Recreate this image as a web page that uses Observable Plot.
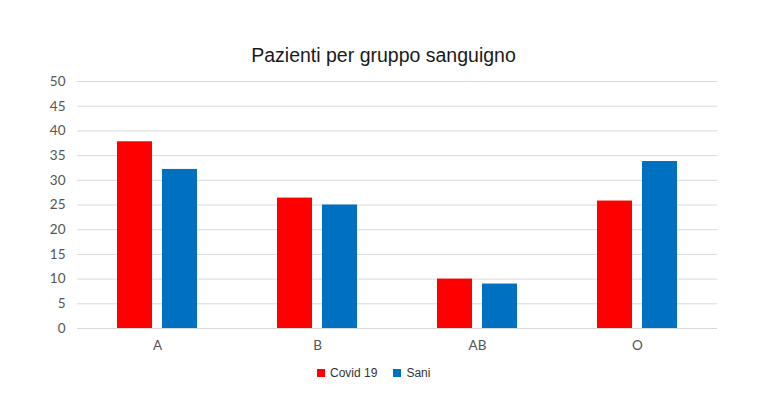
<!DOCTYPE html>
<html>
<head>
<meta charset="utf-8">
<script src="https://cdn.jsdelivr.net/npm/d3@7"></script>
<script src="https://cdn.jsdelivr.net/npm/@observablehq/plot@0.6"></script>
<style>
  html, body { margin: 0; padding: 0; background: #fff; }
  #wrap { position: relative; width: 767px; height: 420px; font-family: "Liberation Sans", Arial, sans-serif; }
  #title { position: absolute; top: 44px; left: 0; width: 767px; text-align: center; font-size: 19.5px; color: #1a1a1a; }
  #chart { position: absolute; top: 70px; left: 0; }
  #legend { position: absolute; top: 366px; left: 317px; display: flex; align-items: center; font-size: 12px; color: #333; }
  .sw { width: 8px; height: 8px; display: inline-block; margin-right: 5px; }
  .item { display: flex; align-items: center; margin-right: 16px; }
</style>
</head>
<body>
<div id="wrap">
  <div id="title"></div>
  <div id="chart"></div>
  <div id="legend"></div>
</div>
<script>
const title = "Pazienti per gruppo sanguigno";
const groups = ["A", "B", "AB", "O"];
const series = ["Covid 19", "Sani"];
const covid = [37.8, 26.4, 10.0, 25.8];
const sani = [32.2, 25.0, 9.0, 33.8];
const colors = ["#ff0000", "#0070c0"];
const yTicks = [0, 5, 10, 15, 20, 25, 30, 35, 40, 45, 50];

const data = [];
groups.forEach((g, i) => {
  data.push({group: g, series: series[0], value: covid[i]});
  data.push({group: g, series: series[1], value: sani[i]});
});

document.getElementById("title").textContent = title;

const plot = Plot.plot({
  width: 767,
  height: 288,
  marginLeft: 76,
  marginRight: 49,
  marginTop: 11,
  marginBottom: 30,
  style: {fontFamily: "Lato, 'Liberation Sans', sans-serif", fontSize: "13.5px", color: "#555", background: "#fff"},
  fx: {domain: groups, padding: 0, label: null, axis: "bottom", tickSize: 0, tickPadding: 12},
  x: {domain: series, axis: null, paddingInner: 0.217, paddingOuter: 0.853},
  y: {domain: [0, 50], ticks: yTicks, label: null, tickSize: 0, tickPadding: 12},
  color: {domain: series, range: colors},
  marks: [
    Plot.ruleY(yTicks, {stroke: "#d9d9d9", strokeWidth: 1}),
    Plot.barY(data, {fx: "group", x: "series", y: "value", fill: "series"}),
    Plot.axisY({ticks: yTicks, tickSize: 0, tickPadding: 12, label: null, fontSize: 13.5})
  ]
});
document.getElementById("chart").appendChild(plot);

const legend = document.getElementById("legend");
series.forEach((s, i) => {
  const item = document.createElement("div");
  item.className = "item";
  const sw = document.createElement("span");
  sw.className = "sw";
  sw.style.background = colors[i];
  item.appendChild(sw);
  item.appendChild(document.createTextNode(s));
  legend.appendChild(item);
});
</script>
</body>
</html>
